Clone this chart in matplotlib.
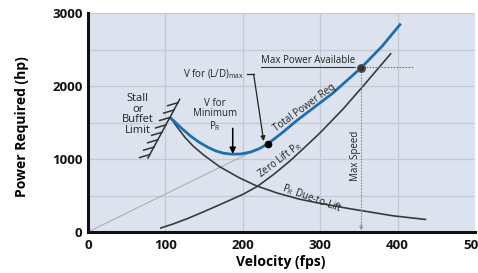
import matplotlib
matplotlib.use("Agg")
import matplotlib.pyplot as plt
import matplotlib.patheffects as pe

plt.rcParams['font.family'] = ['Open Sans', 'DejaVu Sans']
plt.rcParams['mathtext.fontset'] = 'custom'
plt.rcParams['mathtext.rm'] = 'Open Sans'

# curves (velocity fps, power hp)
total_v = [107, 122, 133, 144, 155, 165, 175, 185, 197, 210, 221, 232, 250, 269, 290, 316, 353, 380, 403]
total_p = [1560, 1410, 1310, 1227, 1160, 1111, 1080, 1066, 1068, 1095, 1140, 1205, 1352, 1520, 1690, 1900, 2250, 2545, 2840]

zero_v = [94, 110, 129, 150, 180, 200, 219, 240, 260, 280, 300, 330, 359, 391]
zero_p = [55, 110, 186, 280, 420, 515, 626, 790, 965, 1160, 1360, 1690, 2043, 2441]

lift_v = [107, 115, 125, 136, 150, 170, 195, 217, 245, 273, 300, 335, 355, 394, 436]
lift_p = [1560, 1440, 1300, 1175, 1050, 895, 745, 635, 532, 450, 392, 325, 290, 222, 172]

stall_v = [77.5, 118.5]
stall_p = [1015, 1818]

ld_max = (232, 1205)      # tangent point, V for (L/D)max
min_pr_v = 187            # V for minimum power required
max_pwr = (353, 2250)     # max power available / max speed

x_ticks = [0, 100, 200, 300, 400, 500]
y_ticks = [0, 1000, 2000, 3000]

fig = plt.figure(figsize=(4.78, 2.73), dpi=100)
ax = fig.add_axes([88 / 478, 41 / 273, 387 / 478, 219 / 273])
ax.set_facecolor('#dde3ee')
ax.set_xlim(0, 500)
ax.set_ylim(0, 3000)

# grid
for v in range(100, 500, 100):
    ax.axvline(v, color='#c4cad5', lw=0.9, zorder=0)
for p in range(500, 3001, 500):
    ax.axhline(p, color='#c4cad5', lw=0.9, zorder=0)

ax.set_xticks(x_ticks)
ax.set_yticks(y_ticks)
ax.tick_params(length=0, labelsize=9.5, pad=5, labelcolor='#111111')
ax.tick_params(axis='y', pad=4)
for lab in ax.get_xticklabels() + ax.get_yticklabels():
    lab.set_fontweight('bold')

for s in ['top', 'right']:
    ax.spines[s].set_visible(False)
for s in ['left', 'bottom']:
    ax.spines[s].set_linewidth(2.2)
    ax.spines[s].set_color('#111111')

# line from origin to tangent point
ax.plot([0, ld_max[0]], [0, ld_max[1]], color='#a4aab4', lw=0.7, zorder=1)

# curves
ax.plot(zero_v, zero_p, color='#3a3a3a', lw=1.2, zorder=2)
ax.plot(lift_v, lift_p, color='#3a3a3a', lw=1.2, zorder=2)
ax.plot(total_v, total_p, color='#1f6fae', lw=2.0, zorder=3)

# stall limit with hatching
ax.plot(stall_v, stall_p, color='#333333', lw=1.1, zorder=3,
        path_effects=[pe.withTickedStroke(spacing=5.5, angle=135, length=1.4)])
ax.text(64, 1610, 'Stall\nor\nBuffet\nLimit', ha='center', va='center',
        fontsize=8, linespacing=0.92, color='#222222')

# points
ax.plot([ld_max[0]], [ld_max[1]], 'o', color='black', ms=4.5, zorder=4)
ax.plot([max_pwr[0]], [max_pwr[1]], 'o', color='#333333', mec='#555555', ms=5.5, zorder=4)

# V for (L/D)max leader
ax.text(123, 2162, r'V for (L/D)$_\mathregular{max}$', ha='left', va='center',
        fontsize=7, color='#222222')
ax.plot([205, 214], [2162, 2162], color='#222222', lw=0.9)
ax.annotate('', xy=(227, 1245), xytext=(214, 2162),
            arrowprops=dict(arrowstyle='-|>', color='#222222', lw=0.9,
                            mutation_scale=7, shrinkA=0, shrinkB=0))

# V for minimum PR
ax.text(164, 1600, 'V for\nMinimum\n' + r'P$_\mathregular{R}$', ha='center', va='center',
        fontsize=7, linespacing=0.95, color='#222222')
ax.annotate('', xy=(min_pr_v, 1070), xytext=(min_pr_v, 1420),
            arrowprops=dict(arrowstyle='-|>', color='black', lw=1.1,
                            mutation_scale=9, shrinkA=0, shrinkB=0))

# max power available
ax.text(224, 2272, 'Max Power Available', ha='left', va='bottom',
        fontsize=7, color='#222222')
ax.plot([224, 344], [2255, 2255], color='#333333', lw=0.8)
ax.plot([344, 421], [2255, 2255], color='#777777', lw=0.8, ls=(0, (1.5, 1.2)))

# max speed
ax.plot([max_pwr[0], max_pwr[0]], [max_pwr[1], 30], color='#8a8a8a', lw=0.8, ls=(0, (1.5, 1.2)))
ax.annotate('', xy=(max_pwr[0], 25), xytext=(max_pwr[0], 110),
            arrowprops=dict(arrowstyle='->', color='#8a8a8a', lw=0.7,
                            mutation_scale=5, shrinkA=0, shrinkB=0))
ax.text(345, 1040, 'Max Speed', rotation=90, ha='center', va='center',
        fontsize=7, color='#222222')

# curve labels
ax.text(280, 1695, 'Total Power Req', rotation=36, ha='center', va='center',
        fontsize=7, color='#222222')
ax.text(248, 990, r'Zero Lift P$_\mathregular{R}$', rotation=37, ha='center', va='center',
        fontsize=7, color='#222222')
ax.text(290, 465, r'P$_\mathregular{R}$ Due-to-Lift', rotation=-20, ha='center', va='center',
        fontsize=7, color='#222222')

fig.text(0.588, 0.04, 'Velocity (fps)', ha='center', va='center',
         fontsize=10, fontweight='bold')
fig.text(22 / 478, 0.538, 'Power Required (hp)', rotation=90, ha='center', va='center',
         fontsize=10, fontweight='bold')

fig.savefig('out.png', dpi=100)
